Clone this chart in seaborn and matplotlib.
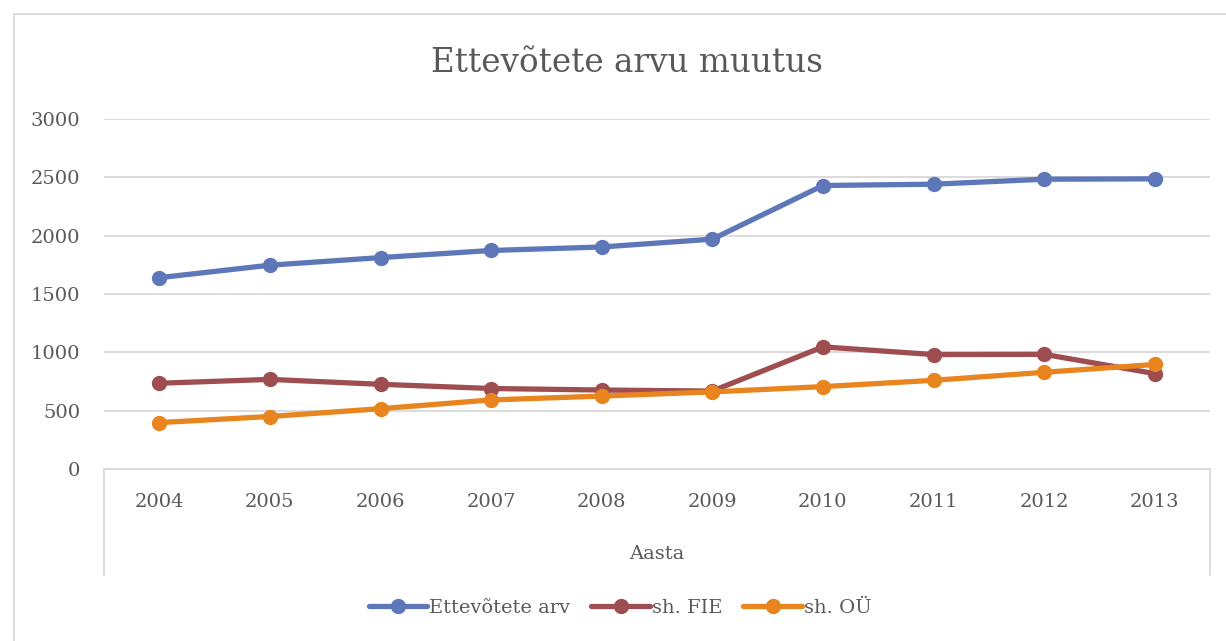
import matplotlib
matplotlib.use("Agg")
import matplotlib.pyplot as plt
import seaborn as sns
import pandas as pd
from matplotlib.patches import Rectangle

years = ["2004", "2005", "2006", "2007", "2008", "2009", "2010", "2011", "2012", "2013"]
ettevotete_arv = [1640, 1747, 1812, 1873, 1903, 1970, 2430, 2441, 2484, 2487]
sh_fie = [735, 768, 726, 690, 677, 668, 1047, 981, 983, 818]
sh_ou = [398, 450, 517, 592, 625, 661, 706, 760, 829, 896]
series_names = ["Ettevõtete arv", "sh. FIE", "sh. OÜ"]
colors = ["#5E77B9", "#9E4D50", "#E8851F"]
title = "Ettevõtete arvu muutus"
xlabel = "Aasta"

sns.set_theme(style="white")
plt.rcParams['font.family'] = ['DejaVu Serif']
text_color = "#595959"

fig = plt.figure(figsize=(12.26, 6.41), dpi=100)
ax = fig.add_axes([104/1226, 1-469/641, (1210-104)/1226, 350/641])

idx = list(range(len(years)))
for name, vals, c in zip(series_names, [ettevotete_arv, sh_fie, sh_ou], colors):
    df = pd.DataFrame({"x": idx, "y": vals})
    sns.lineplot(data=df, x="x", y="y", ax=ax, color=c, linewidth=3.8,
                 marker="o", markersize=10, markeredgecolor=c, markeredgewidth=1,
                 label=name, legend=False, zorder=3)

ax.set_xlim(-0.5, len(years) - 0.5)
ax.set_ylim(0, 3000)
ax.set_yticks(range(0, 3001, 500))
ax.set_xticks(idx)
ax.set_xticklabels(years)
ax.tick_params(axis='both', length=0, labelsize=14, colors=text_color)
ax.tick_params(axis='y', pad=17)
ax.tick_params(axis='x', pad=17)
ax.grid(axis='y', color="#D9D9D9", linewidth=1.3)
ax.set_axisbelow(True)
for s in ["top", "right", "left"]:
    ax.spines[s].set_visible(False)
ax.spines["bottom"].set_color("#D9D9D9")
ax.spines["bottom"].set_linewidth(1.3)
ax.set_ylabel("")
ax.set_xlabel(xlabel, fontsize=14, color=text_color, labelpad=25)

# category axis outer separators
for xv in [0, 1]:
    ax.plot([xv, xv], [0, -106/350], transform=ax.transAxes, clip_on=False,
            color="#D9D9D9", linewidth=1.3)

fig.text(627/1226, 1-63/641, title, ha="center", va="center",
         fontsize=23.5, color=text_color)

handles, labels = ax.get_legend_handles_labels()
leg = fig.legend(handles, labels, loc="center", bbox_to_anchor=(620/1226, 1-608/641),
                 ncol=3, frameon=False, fontsize=14, handlelength=3.0,
                 handletextpad=0.1, columnspacing=1.1)
for t in leg.get_texts():
    t.set_color(text_color)

fig.patches.append(Rectangle((14/1226, -0.01), 1.0, 1-14/641 + 0.01, transform=fig.transFigure,
                             fill=False, edgecolor="#D9D9D9", linewidth=1.3))

fig.savefig("out.png", dpi=100, facecolor="white")
